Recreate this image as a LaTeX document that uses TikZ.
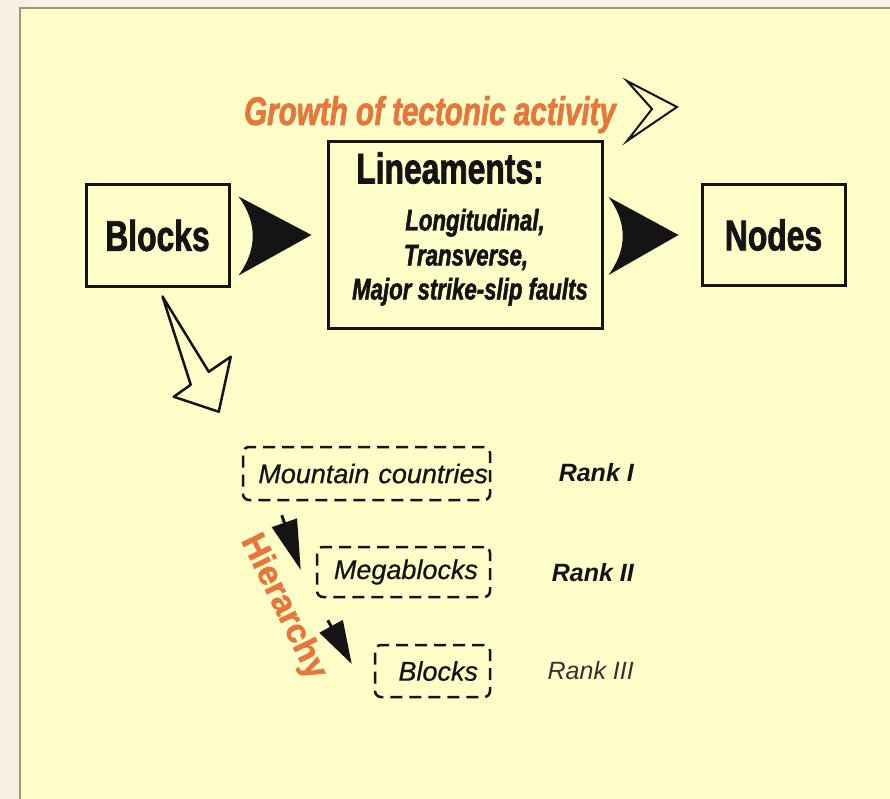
\documentclass[tikz,border=0pt]{standalone}
\usepackage{fontspec}
\setmainfont{Liberation Sans}
\newfontfamily\condfont[FakeStretch=0.74,FakeBold=1.6]{Liberation Sans}
\newfontfamily\heavyfont[FakeBold=1.4]{Liberation Sans}
\newfontfamily\rankfont[FakeBold=0.6]{Liberation Sans}
\usetikzlibrary{calc,arrows.meta}

\definecolor{paper}{HTML}{F8F0E0}
\definecolor{panel}{HTML}{FFFDC8}
\definecolor{rim}{HTML}{9E9682}
\definecolor{tecto}{HTML}{E8763A}
\definecolor{ink}{HTML}{141414}

\tikzset{
  mainbox/.style={draw=ink, line width=3pt, inner sep=0pt},
  rankbox/.style={draw=ink, dash pattern=on 12pt off 7pt, line width=2.5pt,
    rounded corners=6pt, align=right, inner ysep=0pt, text=ink,
    font=\rankfont\itshape\fontsize{27}{30}\selectfont},
  ranklabel/.style={anchor=east, inner sep=0pt, text=ink,
    font=\itshape\fontsize{25}{28}\selectfont},
  subline/.style={anchor=base, inner sep=0pt, text=ink,
    font=\condfont\bfseries\itshape\fontsize{30}{34}\selectfont},
  smallarrow/.style={draw=ink, line width=3pt, -{Triangle[length=#1,width=26pt]}},
}

\begin{document}
\begin{tikzpicture}[x=1pt,y=-1pt]
    \useasboundingbox (0,0) rectangle (890,799);

    % Background sheet:
    \fill[paper] (0,0) rectangle (890,799);
    \fill[panel] (20,8) rectangle (890,799);
    \draw[rim, line width=2pt] (20,799) -- (20,8) -- (890,8);

    % Title over the top row, with its open chevron:
    \node[anchor=base, inner sep=0pt, text=tecto,
          font=\condfont\bfseries\itshape\fontsize{40}{44}\selectfont]
          (growth) at (430,125) {Growth of tectonic activity};
    \filldraw[draw=ink, fill=panel, line width=2pt, line join=miter]
        (627,81) -- (677,107) -- (627,141) -- (652,109) -- cycle;

    % Top row of boxes:
    \node[mainbox, minimum width=143pt, minimum height=101pt, text=ink,
          font=\condfont\bfseries\fontsize{43}{48}\selectfont]
          (blocks) at (157.5,235.5) {Blocks};
    \node[mainbox, minimum width=274pt, minimum height=186pt] (lin) at (465,235) {};
    \node[mainbox, minimum width=143pt, minimum height=100pt, text=ink,
          font=\condfont\bfseries\fontsize{43}{48}\selectfont]
          (nodes) at (773.5,235) {Nodes};

    \node[anchor=base, inner sep=0pt, text=ink,
          font=\condfont\bfseries\fontsize{43}{48}\selectfont]
          (linhead) at ($(lin.north)+(-15,43)$) {Lineaments:};
    \node[subline] (lon) at ($(lin.north)+(10,90)$) {Longitudinal,};
    \node[subline] (tra) at ($(lin.north)+(1,125)$) {Transverse,};
    \node[subline] (maj) at ($(lin.north)+(5,159)$) {Major strike-slip faults};

    % Fat arrowheads between the boxes:
    \fill[ink] ($(blocks.east)+(8,-39)$) -- ($(lin.west)+(-15,0)$) -- ($(blocks.east)+(8,40)$)
        .. controls ($(blocks.east)+(27,14)$) and ($(blocks.east)+(27,-13)$) .. ($(blocks.east)+(8,-39)$) -- cycle;
    \fill[ink] ($(lin.east)+(5,-38)$) -- ($(nodes.west)+(-22,0)$) -- ($(lin.east)+(5,40)$)
        .. controls ($(lin.east)+(24,14)$) and ($(lin.east)+(24,-12)$) .. ($(lin.east)+(5,-38)$) -- cycle;

    % Ranks of blocks:
    \node[rankbox, inner xsep=2pt, text width=243pt, minimum height=53pt]
          (mount) at (366.5,473.5) {Mountain countries};
    \node[rankbox, inner xsep=12pt, text width=149pt, minimum height=50pt]
          (mega) at (403.5,572) {Megablocks};
    \node[rankbox, inner xsep=12pt, text width=91pt, minimum height=52pt]
          (blk) at (432.5,671) {Blocks};

    \node[ranklabel, font=\bfseries\itshape\fontsize{25}{28}\selectfont] (rank1) at (634,473) {Rank I};
    \node[ranklabel, font=\bfseries\itshape\fontsize{25}{28}\selectfont] (rank2) at (634,573) {Rank II};
    \node[ranklabel, text=black!80] (rank3) at (634,671) {Rank III};

    % Open arrow down from the blocks:
    \coordinate (drop) at ($(blocks.south)+(5,9)$);
    \coordinate (droptip) at ($(mount.north west)+(-23,-34)$);
    \filldraw[draw=ink, fill=panel, line width=2.5pt, line join=round]
        (drop) -- ($(droptip)+(-10,-40)$) -- ($(droptip)+(12,-55)$) -- (droptip)
        -- ($(droptip)+(-45,-15)$) -- ($(droptip)+(-28,-27)$) -- cycle;

    % Steps down the hierarchy:
    \draw[smallarrow=50pt] ($(mount.south west)+(40,14)$) -- ($(mega.west)+(-15,-2)$);
    \draw[smallarrow=43pt] ($(mega.south west)+(12,22)$) -- ($(blk.west)+(-22,-7)$);

    \node[rotate=-64, inner sep=0pt, text=tecto, font=\heavyfont\bfseries\fontsize{34}{38}\selectfont]
          (hier) at (283,607) {Hierarchy};
\end{tikzpicture}
\end{document}
